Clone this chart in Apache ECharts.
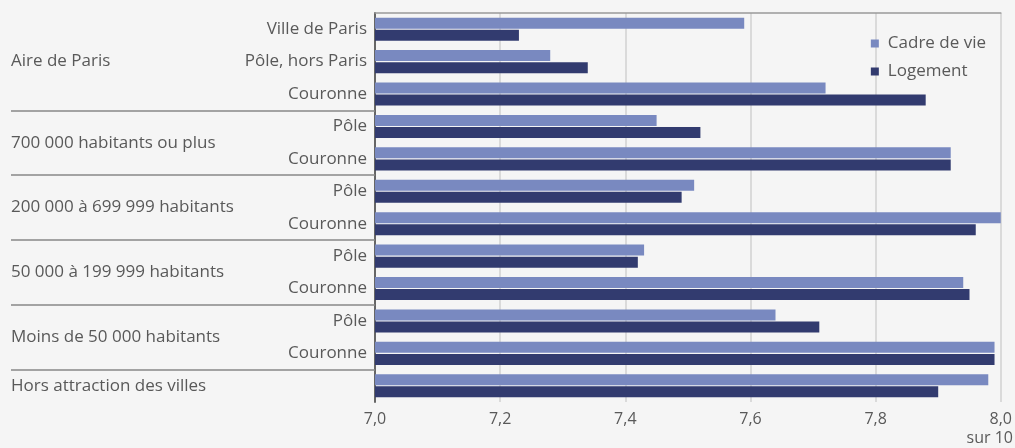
<!DOCTYPE html>
<html>
<head>
<meta charset="utf-8">
<script src="https://cdn.jsdelivr.net/npm/echarts@6/dist/echarts.min.js"></script>
<style>
  html, body { margin: 0; padding: 0; background: #f5f5f5; }
  #chart { width: 1015px; height: 448px; }
</style>
</head>
<body>
<div id="chart"></div>
<script>
// libellés des lignes (de haut en bas)
let categories = ['Ville de Paris', 'Pôle, hors Paris', 'Couronne', 'Pôle', 'Couronne', 'Pôle',
  'Couronne', 'Pôle', 'Couronne', 'Pôle', 'Couronne', ''];
// groupes : libellé et position (en rangs) sur l'axe
let groupNames = ['Aire de Paris', '700 000 habitants ou plus', '200 000 à 699 999 habitants',
  '50 000 à 199 999 habitants', 'Moins de 50 000 habitants', 'Hors attraction des villes'];
let groupPos = [1.5, 4, 6, 8, 10, 11.5];
let groupBreaks = [3, 5, 7, 9, 11];   // séparateurs entre groupes
let cadreDeVie = [7.59, 7.28, 7.72, 7.45, 7.92, 7.51, 8.0, 7.43, 7.94, 7.64, 7.99, 7.98];
let logement = [7.23, 7.34, 7.88, 7.52, 7.92, 7.49, 7.96, 7.42, 7.95, 7.71, 7.99, 7.90];

let txt = '#595959';
let font = 'Open Sans';
let fs = 17;

let chart = echarts.init(document.getElementById('chart'));
chart.setOption({
  backgroundColor: '#f5f5f5',
  animation: false,
  textStyle: { fontFamily: font },
  title: {
    text: 'sur 10', right: -3, bottom: -3,
    textStyle: { fontFamily: font, fontSize: 16, fontWeight: 'normal', color: txt }
  },
  legend: {
    orient: 'vertical', right: 24, top: 30, itemGap: 11,
    itemWidth: 8, itemHeight: 8, icon: 'rect',
    textStyle: { fontFamily: font, fontSize: fs, color: txt, padding: [0, 0, 0, 4] },
    data: ['Cadre de vie', 'Logement']
  },
  grid: { left: 375, right: 12, top: 13, bottom: 46 },
  xAxis: {
    type: 'value', min: 7, max: 8, interval: 0.2,
    axisLine: { show: true, lineStyle: { color: '#999', width: 1.5 } },
    axisTick: { show: false },
    splitLine: { lineStyle: { color: '#dadada', width: 2 } },
    axisLabel: {
      fontFamily: font, fontSize: 16, color: txt, margin: 9,
      formatter: v => v.toFixed(1).replace('.', ',')
    }
  },
  yAxis: [{
    type: 'category', inverse: true, data: categories,
    axisLine: { lineStyle: { color: '#666', width: 2 } },
    axisTick: { show: false },
    axisLabel: { fontFamily: font, fontSize: fs, color: txt, margin: 8 }
  }, {
    // axe des groupes : libellés et séparateurs
    type: 'value', inverse: true, min: 0, max: 12, position: 'left',
    axisLine: { show: false }, splitLine: { show: false },
    axisTick: {
      show: true, length: 364, customValues: groupBreaks,
      lineStyle: { color: '#888', width: 1.5 }
    },
    axisLabel: {
      fontFamily: font, fontSize: fs, color: txt, margin: 364, align: 'left',
      customValues: groupPos,
      formatter: v => {
        let k = groupPos.indexOf(v);
        return k >= 0 ? groupNames[k] : '';
      }
    }
  }],
  series: [{
    name: 'Cadre de vie', type: 'bar', data: cadreDeVie,
    barWidth: 11, barGap: '10%', itemStyle: { color: '#7989c0' }
  }, {
    name: 'Logement', type: 'bar', data: logement,
    barWidth: 11, barGap: '10%', itemStyle: { color: '#323b6f' }
  }]
});
</script>
</body>
</html>
